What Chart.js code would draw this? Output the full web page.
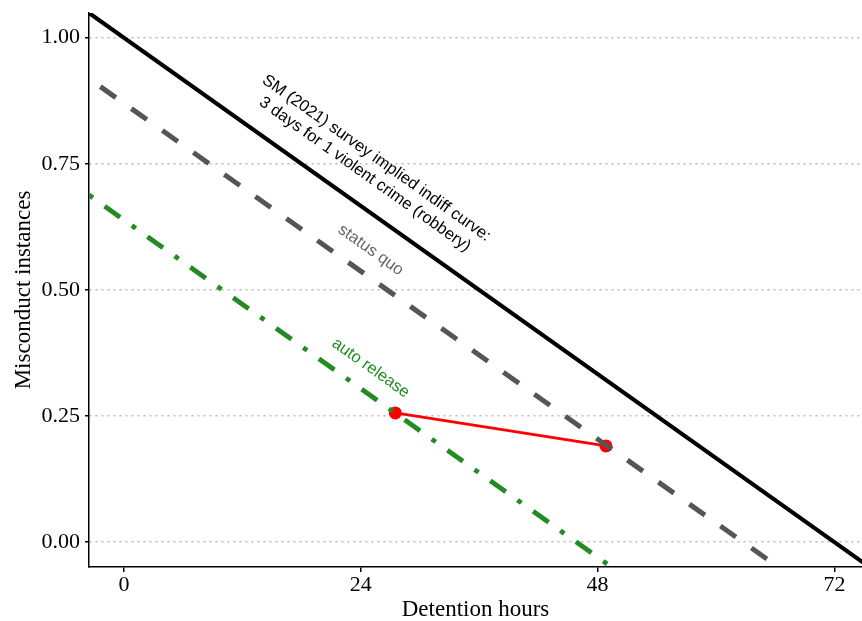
<!DOCTYPE html>
<html>
<head>
<meta charset="utf-8">
<script src="https://cdn.jsdelivr.net/npm/chart.js@4.4.0/dist/chart.umd.min.js"></script>
<style>
  html, body { margin: 0; padding: 0; background: #fff; }
  canvas { display: block; }
</style>
</head>
<body>
<canvas id="grafico" width="862" height="621"></canvas>
<script>
// --- dados ---
const horasTicks = [0, 24, 48, 72];
const instTicks = [0, 0.25, 0.5, 0.75, 1];

// curva SM (2021): 72 horas por instancia
const smHoras = [-3.55, 75.5];
const smValores = [1.049, -0.049];

// status quo
const sqHoras = [-2.4, 66.3];
const sqValores = [0.903, -0.0496];

// auto release
const autoHoras = [-3.55, 49.4];
const autoValores = [0.688, -0.0496];

// mudanca (ponto vermelho -> ponto vermelho)
const mudancaHoras = [27.5, 48.85];
const mudancaValores = [0.256, 0.1905];

// rotulos ao longo das retas
const rotulos = [
  { linhas: ['SM (2021) survey implied indiff curve:', '3 days for 1 violent crime (robbery)'], x: 25, y: 0.745, cor: '#000000' },
  { linhas: ['status quo'], x: 25, y: 0.579, cor: '#666666' },
  { linhas: ['auto release'], x: 25, y: 0.345, cor: '#228B22' }
];

function pontos(xs, ys) {
  return xs.map((v, i) => ({ x: v, y: ys[i] }));
}

const pluginRotulos = {
  id: 'rotulos',
  afterDatasetsDraw(chart) {
    const { ctx, scales: { x, y } } = chart;
    // inclinacao de 1/72 em pixels
    const ang = Math.atan2(y.getPixelForValue(0) - y.getPixelForValue(1),
                           x.getPixelForValue(72) - x.getPixelForValue(0));
    const tam = 16.5;
    const lh = tam * 1.2;
    ctx.save();
    ctx.font = tam + 'px "Liberation Sans", Arial, sans-serif';
    ctx.textAlign = 'center';
    ctx.textBaseline = 'middle';
    rotulos.forEach(r => {
      ctx.save();
      ctx.translate(x.getPixelForValue(r.x), y.getPixelForValue(r.y));
      ctx.rotate(ang);
      ctx.fillStyle = r.cor;
      const n = r.linhas.length;
      r.linhas.forEach((t, i) => ctx.fillText(t, 0, (i - (n - 1) / 2) * lh));
      ctx.restore();
    });
    ctx.restore();
  }
};

const fonteSerif = '"Liberation Serif", "Times New Roman", serif';

new Chart(document.getElementById('grafico').getContext('2d'), {
  type: 'line',
  data: {
    datasets: [
      { data: pontos(smHoras, smValores), borderColor: '#000000', borderWidth: 4.2, pointRadius: 0, borderCapStyle: 'butt' },
      { data: pontos(sqHoras, sqValores), borderColor: '#555555', borderWidth: 5, pointRadius: 0, borderDash: [19, 19], borderCapStyle: 'butt' },
      { data: pontos(autoHoras, autoValores), borderColor: '#228B22', borderWidth: 4.8, pointRadius: 0, borderDash: [4.8, 14.4, 19, 14.4], borderCapStyle: 'butt' },
      { data: pontos(mudancaHoras, mudancaValores), borderColor: '#FF0000', borderWidth: 2.8, pointRadius: 6.5,
        pointBackgroundColor: '#FF0000', pointBorderWidth: 0 }
    ]
  },
  options: {
    responsive: false,
    animation: false,
    layout: { autoPadding: false, padding: { top: 13, right: 0, left: 0, bottom: 0 } },
    plugins: { legend: { display: false }, tooltip: { enabled: false } },
    scales: {
      x: {
        type: 'linear', min: -3.55, max: 74.8,
        afterBuildTicks: s => { s.ticks = horasTicks.map(v => ({ value: v })); },
        afterFit: s => { s.height = 54; s.paddingLeft = 0; s.paddingRight = 0; },
        grid: { drawOnChartArea: false, drawTicks: true, tickLength: 5, color: '#000', lineWidth: 1.5 },
        border: { color: '#000', width: 1.5 },
        ticks: { color: '#000', padding: 0, maxRotation: 0, font: { family: fonteSerif, size: 22 }, callback: v => String(v) },
        title: { display: true, text: 'Detention hours', color: '#000', padding: { top: 0, bottom: 0 },
                 font: { family: fonteSerif, size: 23, lineHeight: 1 } }
      },
      y: {
        type: 'linear', min: -0.0496, max: 1.049,
        afterBuildTicks: s => { s.ticks = instTicks.map(v => ({ value: v })); },
        afterFit: s => { s.width = 89; s.paddingTop = 0; s.paddingBottom = 0; },
        grid: { color: '#b8b8b8', lineWidth: 1.5, tickLength: 4, tickColor: '#000', tickWidth: 1.5, tickBorderDash: [] },
        border: { color: '#000', width: 1.5, dash: [2, 4] },
        ticks: { color: '#000', padding: 5, font: { family: fonteSerif, size: 22 }, callback: v => Number(v).toFixed(2) },
        title: { display: true, text: 'Misconduct instances', color: '#000', padding: { top: 12, bottom: 0 },
                 font: { family: fonteSerif, size: 23, lineHeight: 1 } }
      }
    }
  },
  plugins: [pluginRotulos]
});
</script>
</body>
</html>
